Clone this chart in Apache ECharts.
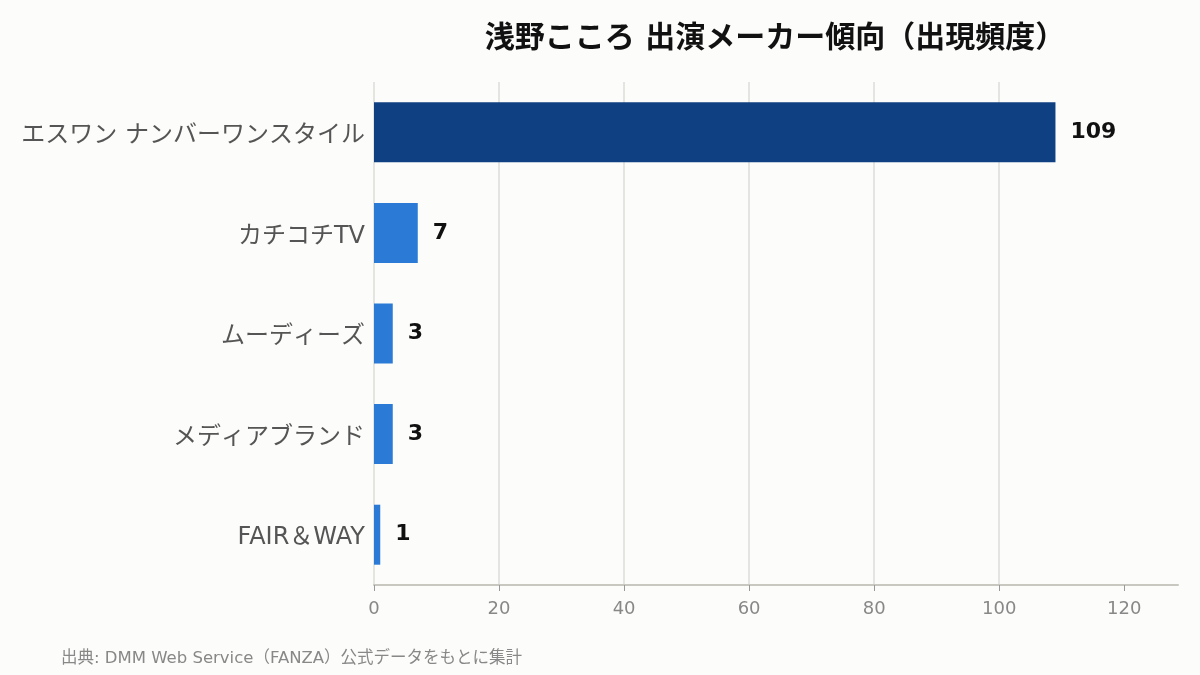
<!DOCTYPE html>
<html>
<head>
<meta charset="utf-8">
<script src="https://cdn.jsdelivr.net/npm/echarts@6/dist/echarts.min.js"></script>
<style>
  html, body { margin: 0; padding: 0; background: #fcfcfa; }
  #chart { width: 1200px; height: 675px; }
</style>
</head>
<body>
<div id="chart"></div>
<script>
const makers = ['エスワン ナンバーワンスタイル', 'カチコチTV', 'ムーディーズ', 'メディアブランド', 'FAIR＆WAY'];
const counts = [109, 7, 3, 3, 1];
const tickValues = [0, 20, 40, 60, 80, 100, 120];
const axisMax = 128.6;

const font = '"DejaVu Sans", "Noto Sans CJK JP", sans-serif';

var myChart = echarts.init(document.getElementById('chart'));
var option = {
    backgroundColor: '#fcfcfa',
    textStyle: { fontFamily: font },
    title: [{
        text: '浅野こころ 出演メーカー傾向（出現頻度）',
        left: 770,
        top: 19,
        textAlign: 'center',
        textStyle: { fontSize: 30, fontWeight: 'bold', color: '#111', fontFamily: font }
    }, {
        text: '出典: DMM Web Service（FANZA）公式データをもとに集計',
        left: 56,
        top: 645,
        textStyle: { fontSize: 16.5, fontWeight: 'normal', color: '#888', fontFamily: font }
    }],
    grid: { left: 374, right: 22, top: 82, bottom: 90 },
    xAxis: {
        type: 'value',
        min: 0,
        max: axisMax,
        interval: 20,
        axisLine: { show: true, lineStyle: { color: '#c8c8c0', width: 2 } },
        axisTick: { show: true, customValues: tickValues, length: 6, lineStyle: { color: '#999' } },
        axisLabel: { customValues: tickValues, color: '#888', fontSize: 18, margin: 15, fontFamily: font },
        splitLine: { show: true, showMaxLine: false, lineStyle: { color: '#ddddd8', width: 1.5 } }
    },
    yAxis: {
        type: 'category',
        data: makers,
        inverse: true,
        axisLine: { show: false },
        axisTick: { show: false },
        axisLabel: {
            margin: 9,
            formatter: function (v) { return '{m|' + v + '}'; },
            rich: {
                m: { color: '#555', fontSize: 24, padding: [7, 0, 0, 0], fontFamily: font }
            }
        }
    },
    series: [{
        type: 'bar',
        data: counts,
        barWidth: 60,
        itemStyle: {
            color: function (p) { return p.dataIndex === 0 ? '#0f4182' : '#2a7ad6'; }
        },
        label: {
            show: true,
            position: 'right',
            distance: 15,
            color: '#111',
            fontSize: 22,
            fontWeight: 'bold',
            fontFamily: font
        }
    }]
};
myChart.setOption(option);
</script>
</body>
</html>
